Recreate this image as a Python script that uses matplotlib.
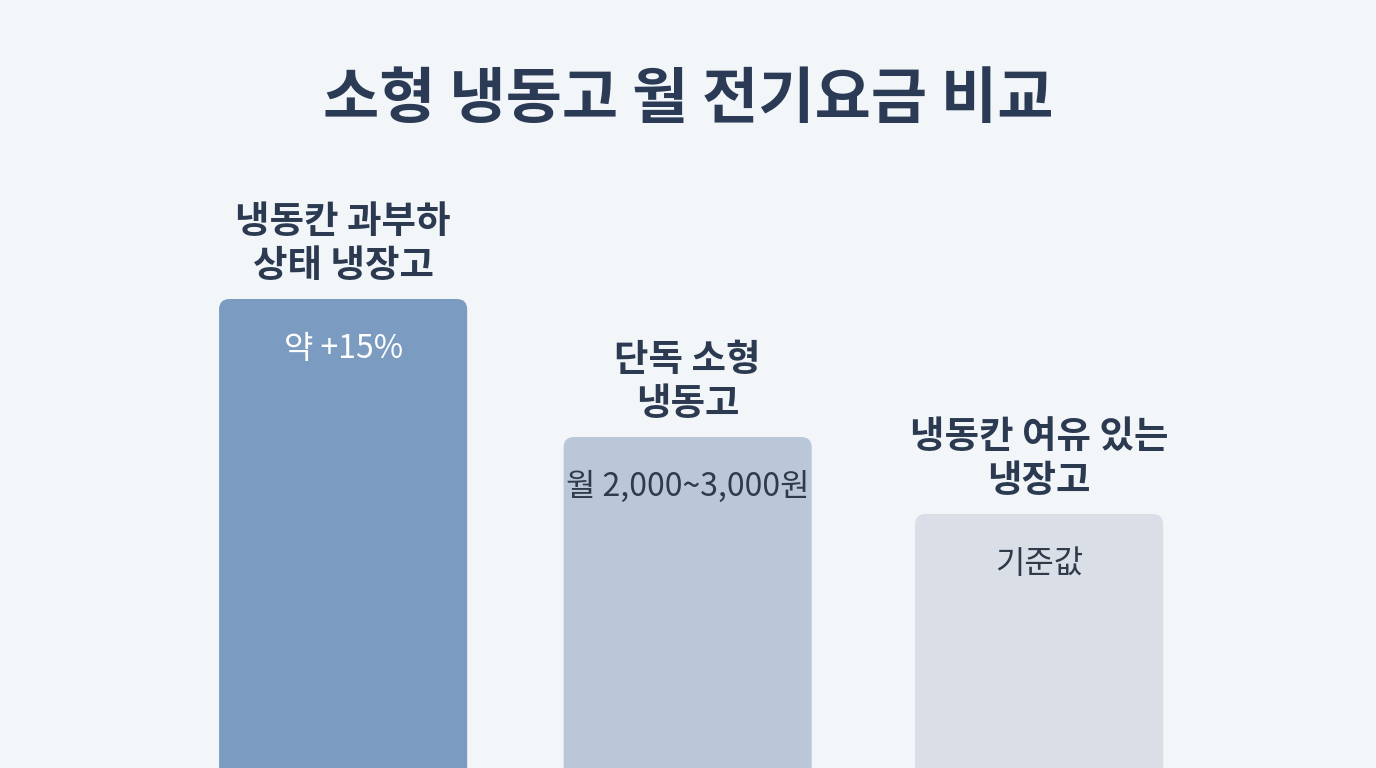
import matplotlib
matplotlib.use("Agg")
import matplotlib.pyplot as plt
from matplotlib.patches import FancyBboxPatch

plt.rcParams['font.family'] = ['Noto Sans CJK KR', 'DejaVu Sans']

title = "소형 냉동고 월 전기요금 비교"
categories = ["냉동칸 과부하\n상태 냉장고", "단독 소형\n냉동고", "냉동칸 여유 있는\n냉장고"]
values = [469, 331, 254]          # relative bar height
inside = ["약 +15%", "월 2,000~3,000원", "기준값"]
colors = ["#7b9bc1", "#b9c7d9", "#d9dee7"]
inside_colors = ["#ffffff", "#2f3a4a", "#2f3a4a"]

fig = plt.figure(figsize=(13.76, 7.68), dpi=100)
fig.patch.set_facecolor("#f3f6f9")
ax = fig.add_axes([0, 0, 1, 1])
ax.set_facecolor("#f3f6f9")
ax.set_xlim(-0.986, 2.968)
ax.set_ylim(0, 768)
ax.axis("off")

xs = [0, 0.99, 2.0]
w = 0.713
for x, v, c, lab, t, tc in zip(xs, values, colors, categories, inside, inside_colors):
    p = FancyBboxPatch((x - w / 2, -30), w, v + 30,
                       boxstyle="round,pad=0,rounding_size=0.03",
                       mutation_aspect=348, fc=c, ec="none")
    ax.add_patch(p)
    ax.text(x, v + 14, lab, ha="center", va="bottom", fontsize=27,
            fontweight="bold", color="#2b3a50", linespacing=1.15)
    ax.text(x, v - 50, t, ha="center", va="center", fontsize=23, color=tc)

fig.text(0.5, 1 - 100 / 768, title, ha="center", va="center", fontsize=44,
         fontweight="bold", color="#2b3a55")
fig.savefig("out.png", dpi=100, facecolor=fig.get_facecolor())
